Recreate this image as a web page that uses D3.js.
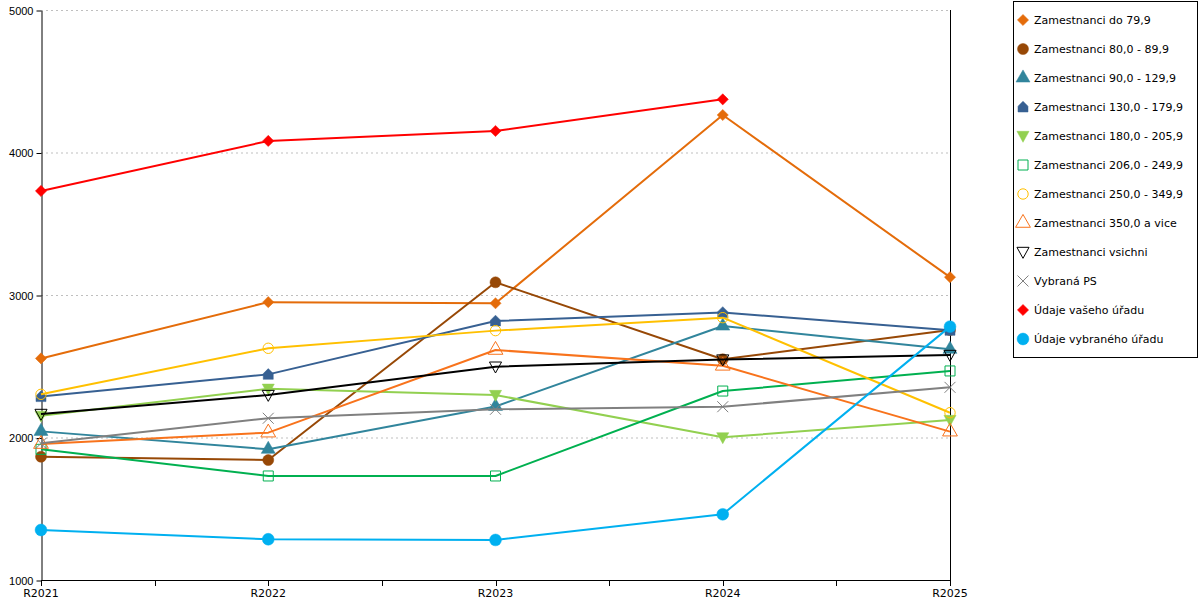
<!DOCTYPE html>
<html>
<head>
<meta charset="utf-8">
<script src="https://cdn.jsdelivr.net/npm/d3@7"></script>
<style>
	body { margin: 0; background: #fff; }
	svg { display: block; font-family: 'DejaVu Sans', Verdana, sans-serif; }
</style>
</head>
<body>
<div id="chart"></div>
<script>
const years = ['R2021', 'R2022', 'R2023', 'R2024', 'R2025'];
const yTicks = [1000, 2000, 3000, 4000, 5000];

const seriesNames = [
	'Zamestnanci do 79,9',
	'Zamestnanci 80,0 - 89,9',
	'Zamestnanci 90,0 - 129,9',
	'Zamestnanci 130,0 - 179,9',
	'Zamestnanci 180,0 - 205,9',
	'Zamestnanci 206,0 - 249,9',
	'Zamestnanci 250,0 - 349,9',
	'Zamestnanci 350,0 a vice',
	'Zamestnanci vsichni',
	'Vybraná PS',
	'Údaje vašeho úřadu',
	'Údaje vybraného úřadu',
];

const do79 = [2555, 2950, 2942, 4263, 3125];
const z80 = [1865, 1842, 3089, 2549, 2754];
const z90 = [2043, 1917, 2218, 2782, 2619];
const z130 = [2287, 2443, 2818, 2878, 2752];
const z180 = [2152, 2342, 2298, 2001, 2123];
const z206 = [1917, 1730, 1730, 2326, 2467];
const z250 = [2303, 2626, 2750, 2841, 2174];
const z350 = [1954, 2034, 2614, 2503, 2041];
const vsichni = [2165, 2298, 2497, 2547, 2579];
const vybranaPS = [1959, 2135, 2198, 2216, 2352];
const vasUrad = [3730, 4081, 4151, 4373, null];
const vybranyUrad = [1351, 1286, 1281, 1461, 2778];

const seriesValues = [do79, z80, z90, z130, z180, z206, z250, z350, vsichni, vybranaPS, vasUrad, vybranyUrad];
const seriesColors = ['#e46c0a', '#974806', '#31859c', '#376092', '#92d050', '#00b050', '#ffc000', '#f8731c', '#000000', '#808080', '#ff0000', '#00b0f0'];

// house shape: triangle roof on a square
const symbolHouse = {
	draw(context, size) {
		const s = Math.sqrt(size) / 2;
		context.moveTo(0, -s * 1.15);
		context.lineTo(s, -s * 0.15);
		context.lineTo(s, s);
		context.lineTo(-s, s);
		context.lineTo(-s, -s * 0.15);
		context.closePath();
	},
};
const symbolDown = {
	draw(context, size) {
		const h = Math.sqrt(size) * 0.55;
		context.moveTo(-h * 1.1, -h * 0.85);
		context.lineTo(h * 1.1, -h * 0.85);
		context.lineTo(0, h * 1.15);
		context.closePath();
	},
};

// [symbol type, size, filled]
const markers = [
	[d3.symbolDiamond2, 80, true],
	[d3.symbolCircle, 95, true],
	[d3.symbolTriangle, 85, true],
	[symbolHouse, 100, true],
	[symbolDown, 100, true],
	[d3.symbolSquare, 100, false],
	[d3.symbolCircle, 85, false],
	[d3.symbolTriangle, 95, false],
	[symbolDown, 100, false],
	[d3.symbolX, 80, false],
	[d3.symbolDiamond2, 80, true],
	[d3.symbolCircle, 110, true],
];

const width = 1200;
const height = 600;
const plot = {left: 41, right: 950, top: 10, bottom: 580};

const svg = d3
	.select('#chart')
	.append('svg')
	.attr('width', width)
	.attr('height', height);

const x = d3
	.scalePoint()
	.domain(years)
	.range([plot.left, plot.right]);

const y = d3
	.scaleLinear()
	.domain([1000, 5000])
	.range([plot.bottom, plot.top]);

// Grid lines
svg.append('g')
	.selectAll('line')
	.data(yTicks.slice(1))
	.enter()
	.append('line')
	.attr('x1', plot.left)
	.attr('x2', plot.right)
	.attr('y1', d => y(d) + 0.5)
	.attr('y2', d => y(d) + 0.5)
	.attr('stroke', '#bfbfbf')
	.attr('stroke-dasharray', '2,3');

// Y axis
const yAxis = svg
	.append('g')
	.attr('transform', `translate(${plot.left + 0.5},0.5)`)
	.call(d3.axisLeft(y).tickValues(yTicks).tickSize(5).tickSizeOuter(0).tickFormat(d3.format('d')));
yAxis.selectAll('text').attr('font-size', 11).attr('fill', '#000').attr('x', -8);
yAxis.selectAll('line, path').attr('stroke', '#000');

// Right axis line
svg.append('line')
	.attr('x1', plot.right + 0.5)
	.attr('x2', plot.right + 0.5)
	.attr('y1', plot.top)
	.attr('y2', plot.bottom)
	.attr('stroke', '#000');

// X axis with ticks at categories and midpoints
const step = x.step();
const xTickPos = d3.range(years.length * 2 - 1).map(i => plot.left + (i * step) / 2);
const xAxis = svg.append('g');
xAxis
	.append('line')
	.attr('x1', plot.left)
	.attr('x2', plot.right + 1)
	.attr('y1', plot.bottom + 0.5)
	.attr('y2', plot.bottom + 0.5)
	.attr('stroke', '#000');
xAxis
	.selectAll('line.tick')
	.data(xTickPos)
	.enter()
	.append('line')
	.attr('class', 'tick')
	.attr('x1', d => Math.round(d) + 0.5)
	.attr('x2', d => Math.round(d) + 0.5)
	.attr('y1', plot.bottom)
	.attr('y2', plot.bottom + 6)
	.attr('stroke', '#000');
xAxis
	.selectAll('text')
	.data(years)
	.enter()
	.append('text')
	.attr('x', d => x(d))
	.attr('y', 597)
	.attr('text-anchor', 'middle')
	.attr('font-size', 11)
	.text(d => d);

// Lines
const line = d3
	.line()
	.defined(d => d != null)
	.x((d, i) => x(years[i]))
	.y(d => y(d));

const seriesG = svg
	.append('g')
	.selectAll('g')
	.data(seriesValues)
	.enter()
	.append('g');

seriesG
	.append('path')
	.attr('d', d => line(d))
	.attr('fill', 'none')
	.attr('stroke', (d, i) => seriesColors[i])
	.attr('stroke-width', 2)
	.attr('stroke-linejoin', 'round');

function drawMarker(sel, i) {
	const [type, size, filled] = markers[i];
	sel.attr('d', d3.symbol().type(type).size(size)())
		.attr('fill', filled ? seriesColors[i] : 'none')
		.attr('stroke', seriesColors[i])
		.attr('stroke-width', filled ? 0.5 : 1);
}

seriesG.each(function (vals, i) {
	d3.select(this)
		.selectAll('path.marker')
		.data(vals.map((v, j) => [j, v]).filter(d => d[1] != null))
		.enter()
		.append('path')
		.attr('class', 'marker')
		.attr('transform', d => `translate(${x(years[d[0]])},${y(d[1])})`)
		.call(drawMarker, i);
});

// Legend
const legend = svg.append('g');
legend
	.append('rect')
	.attr('x', 1013.5)
	.attr('y', 1.5)
	.attr('width', 184)
	.attr('height', 356)
	.attr('fill', '#fff')
	.attr('stroke', '#000');

const items = legend
	.selectAll('g.item')
	.data(seriesNames)
	.enter()
	.append('g')
	.attr('class', 'item')
	.attr('transform', (d, i) => `translate(0,${20 + i * 29})`);

items.each(function (d, i) {
	d3.select(this)
		.append('path')
		.attr('transform', 'translate(1023,0)')
		.call(drawMarker, i);
});

items
	.append('text')
	.attr('x', 1034)
	.attr('y', 4)
	.attr('font-size', 11)
	.text(d => d);
</script>
</body>
</html>
